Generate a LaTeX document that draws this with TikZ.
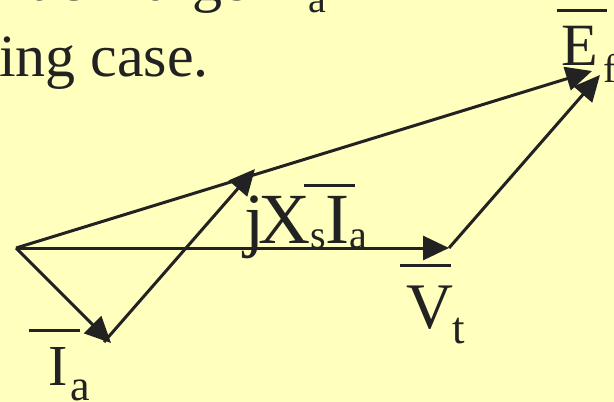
\documentclass[tikz,border=0pt]{standalone}
\usepackage{fontspec}
\setmainfont{Liberation Serif}
\usetikzlibrary{arrows.meta}
\definecolor{slidebg}{RGB}{255,255,190}
\definecolor{ink}{RGB}{34,34,34}
\newcommand{\lowtext}[3]{\raisebox{-#1}{\fontsize{#2}{#2}\selectfont #3}}
\newcommand{\barover}[3]{\makebox[0pt][l]{\kern#1\rule[#2]{#3}{3pt}}}
\begin{document}
\begin{tikzpicture}[x=1pt,y=-1pt,
  vec/.style={draw=ink, line width=3pt, -{Triangle[length=26pt,width=24pt]}},
  lbl/.style={anchor=base west, inner sep=0pt, outer sep=0pt, text=ink}]
\clip (0,0) rectangle (614,402);
\fill[slidebg] (0,0) rectangle (614,402);
% slide text, cut by the frame
\node[lbl, font=\fontsize{60}{72}\selectfont] (line1) at (-18,0) {much larger I\kern4pt\lowtext{12pt}{40}{a} in};
\node[lbl, font=\fontsize{60}{72}\selectfont] (line2) at (-1,76) {ing case.};
% phasor tips
\coordinate (O) at (16,248);
\coordinate (Vt) at (449,248);
\coordinate (Ia) at (111,343);
\coordinate (Ef) at (592,71);
\coordinate (jXa) at (104,342);
\coordinate (jXb) at (255,169);
\coordinate (Eg) at (600,75);
\draw[vec] (O) -- (Vt);
\draw[vec] (O) -- (Ia);
\draw[vec] (O) -- (Ef);
\draw[vec] (jXa) -- (jXb);
\draw[vec] (Vt) -- (Eg);
% labels
\node[lbl, font=\fontsize{60}{60}\selectfont] (lblEf) at (561,65) {\barover{-4pt}{53.5pt}{50pt}E\kern6pt\lowtext{17pt}{40}{f}};
\node[lbl, font=\fontsize{65}{65}\selectfont] (lblVt) at (406,328) {\barover{-6pt}{61.5pt}{51pt}V\lowtext{15pt}{45}{t}};
\node[lbl, font=\fontsize{58}{58}\selectfont] (lblIa) at (48,385) {\barover{-19pt}{53.5pt}{51pt}I\kern3pt\lowtext{15pt}{44}{a}};
\node[lbl, font=\fontsize{72}{72}\selectfont] (lblX) at (244,243) {j\kern-6pt X\lowtext{5pt}{40}{s}\barover{-22pt}{56.5pt}{51pt}I\lowtext{5pt}{40}{a}};
\end{tikzpicture}
\end{document}
